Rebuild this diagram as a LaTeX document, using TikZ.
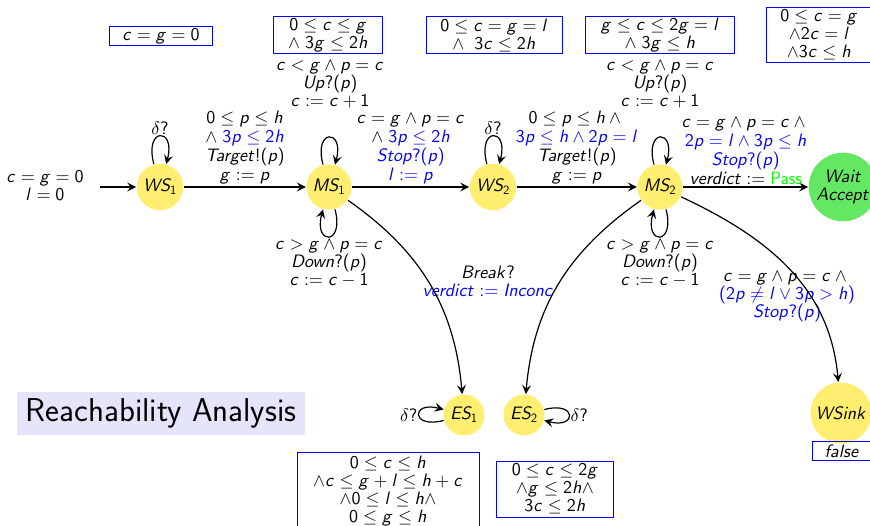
\documentclass[tikz,border=0pt]{standalone}
\usepackage{amsmath}
\usepackage{tikz}
\usetikzlibrary{arrows,arrows.meta,positioning,calc}
\usepackage{color}

% sans serif text and math, as on the slides (freely scalable)
\renewcommand{\familydefault}{\sfdefault}
\DeclareFontFamily{OT1}{slidess}{\hyphenchar\font45 }
\DeclareFontShape{OT1}{slidess}{m}{n}{<-> cmss10}{}
\DeclareFontShape{OT1}{slidess}{m}{sl}{<-> cmssi10}{}
\DeclareFontFamily{OML}{slidemm}{\skewchar\font127 }
\DeclareFontShape{OML}{slidemm}{m}{it}{<-> cmmi10}{}
\DeclareFontFamily{OMS}{slidesy}{\skewchar\font48 }
\DeclareFontShape{OMS}{slidesy}{m}{n}{<-> cmsy10}{}
\DeclareSymbolFont{operators}{OT1}{slidess}{m}{n}
\DeclareSymbolFont{letters}{OT1}{slidess}{m}{sl}
\DeclareSymbolFont{symbols}{OMS}{slidesy}{m}{n}
\DeclareSymbolFont{cmletters}{OML}{slidemm}{m}{it}
\DeclareMathSymbol{\delta}{\mathord}{cmletters}{"0E}
\DeclareMathSymbol{<}{\mathrel}{cmletters}{"3C}
\DeclareMathSymbol{>}{\mathrel}{cmletters}{"3E}

\definecolor{locyellow}{RGB}{255,238,112}
\definecolor{locgreen}{RGB}{100,232,100}
\definecolor{titlebg}{RGB}{228,228,250}

\tikzset{
  loc/.style={circle, fill=locyellow, inner sep=3.5pt},
  inv/.style={draw=blue, line width=1pt, inner sep=1pt, align=center},
  lab/.style={align=center, inner sep=2pt},
  guard/.style={lab, font=\fontsize{18}{19}\selectfont},
}

\begin{document}
\begin{tikzpicture}[x=1pt, y=1pt, line width=1.2pt,
    >={Stealth[length=9pt, width=9pt, inset=3.5pt]},
    font=\fontsize{18}{18}\selectfont]
      \useasboundingbox (0,0) rectangle (870,-526);

      % Define nodes
      \node[loc] (ws1) at (160,-187) {$WS_1$};
      \node[loc] (ms1) at (329,-187) {$MS_1$};
      \node[loc] (ws2) at (493,-187) {$WS_2$};
      \node[loc] (ms2) at (660,-187) {$MS_2$};
      \node[loc, fill=locgreen, align=center, inner sep=2pt] (wacc) at (843,-187) {$Wait$\\$Accept$};
      \node[loc] (es1) at (464,-415) {$ES_1$};
      \node[loc] (es2) at (524,-415) {$ES_2$};
      \node[loc] (wsink) at (841,-413) {$WSink$};

      \coordinate (start) at (100,-187);
      \node[lab] (init) at (45,-186) {$c = g = 0$\\$l = 0$};

      % Invariants
      \node[inv, minimum width=103pt, minimum height=19pt] (inv0) at (161,-36) {$c = g = 0$};
      \node[inv, minimum width=109pt, minimum height=37pt] (inv1) at (328,-35) {$0 \leq c \leq g$\\$\wedge\; 3g \leq 2h$};
      \node[inv, minimum width=136pt, minimum height=37pt] (inv2) at (494,-35) {$0 \leq c = g = l$\\$\wedge\;\; 3c \leq 2h$};
      \node[inv, minimum width=149pt, minimum height=37pt] (inv3) at (660,-35) {$g \leq c \leq 2g = l$\\$\wedge\; 3g \leq h$};
      \node[inv, minimum width=106pt, minimum height=55pt] (inv4) at (819,-35) {$0 \leq c = g$\\$\wedge 2c = l$\\$\wedge 3c \leq h$};
      \node[inv, minimum width=182pt, minimum height=78pt] (inv5) at (388,-491) {$0 \leq c \leq h$\\$\wedge c \leq g + l \leq h + c$\\$\wedge 0 \leq l \leq h \wedge$\\$0 \leq g \leq h$};
      \node[inv, minimum width=117pt, minimum height=56pt] (inv6) at (555,-489) {$0 \leq c \leq 2g$\\$\wedge g \leq 2h \wedge$\\$3c \leq 2h$};
      \node[inv, minimum width=60pt, minimum height=19pt] (inv7) at (842,-451) {$false$};

      \node[fill=titlebg, minimum width=288pt, minimum height=43pt, font=\fontsize{33}{38}\selectfont] (title) at (161,-413.5) {Reachability Analysis};

      % Labels that sit apart from their edges
      \node[lab] (up1) at (330,-84) {$c < g \wedge p = c$\\$Up?(p)$\\$c := c + 1$};
      \node[lab] (up2) at (660,-84) {$c < g \wedge p = c$\\$Up?(p)$\\$c := c + 1$};
      \node[lab] (brk) at (488,-281) {$Break?$\\\textcolor{blue}{$verdict := Inconc$}};
      \node[lab] (snk) at (787,-297) {$c = g \wedge p = c \wedge{}$\\\textcolor{blue}{$(2p \neq l \vee 3p > h)$}\\\textcolor{blue}{$Stop?(p)$}};

      % Draw edges
      \draw[->] (start) -- (ws1);
      \draw[->] (ws1) -- (ms1) node[midway, above, guard] (g1) {$0 \leq p \leq h$\\$\wedge\; \textcolor{blue}{3p \leq 2h}$\\$Target!(p)$\\$g := p$};
      \draw[->] (ms1) -- (ws2) node[midway, above, guard] (g2) {$c = g \wedge p = c$\\$\wedge\; \textcolor{blue}{3p \leq 2h}$\\\textcolor{blue}{$Stop?(p)$}\\\textcolor{blue}{$l := p$}};
      \draw[->] (ws2) -- (ms2) node[midway, above, guard] (g3) {$0 \leq p \leq h \wedge{}$\\\textcolor{blue}{$3p \leq h \wedge 2p = l$}\\$Target!(p)$\\$g := p$};
      \draw[->] (ms2) -- (wacc) node[midway, above, guard] (g4) {$c = g \wedge p = c \wedge{}$\\\textcolor{blue}{$2p = l \wedge 3p \leq h$}\\\textcolor{blue}{$Stop?(p)$}\\$verdict := \textcolor{green}{\text{Pass}}$};

      \draw[->] (ms1) to[out=-35, in=95] (es1);
      \draw[->] (ms2) to[out=-145, in=85] (es2);
      \draw[->] (ms2) to[out=-25, in=95] (wsink);

      % Loops
      \draw[->] (ws1) to[loop above] node[above, inner sep=1pt] (d1) {$\delta?$} (ws1);
      \draw[->] (ws2) to[loop above] node[above, inner sep=1pt] (d2) {$\delta?$} (ws2);
      \draw[->] (ms1) to[loop above] (ms1);
      \draw[->] (ms2) to[loop above] (ms2);
      \draw[->] (ms1) to[loop below] node[below, lab] (dn1) {$c > g \wedge p = c$\\$Down?(p)$\\$c := c - 1$} (ms1);
      \draw[->] (ms2) to[loop below] node[below, lab] (dn2) {$c > g \wedge p = c$\\$Down?(p)$\\$c := c - 1$} (ms2);
      \draw[->] (es1) to[loop left] node[left, inner sep=1pt] (d3) {$\delta?$} (es1);
      \draw[->] (es2) to[loop right] node[right, inner sep=1pt] (d4) {$\delta?$} (es2);
    \end{tikzpicture}
\end{document}
